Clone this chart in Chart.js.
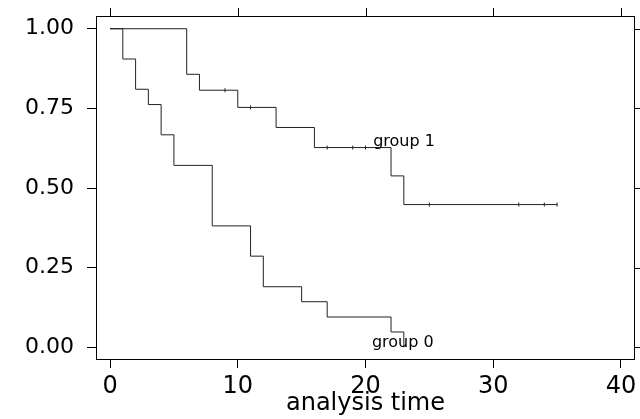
<!DOCTYPE html>
<html>
<head>
<meta charset="utf-8">
<script src="https://cdn.jsdelivr.net/npm/chart.js@4.4.1/dist/chart.umd.min.js"></script>
<style>
html,body{margin:0;padding:0;background:#fff;}
#wrap{width:640px;height:419px;position:relative;}
</style>
</head>
<body>
<div id="wrap"><canvas id="c"></canvas></div>
<script>
// Kaplan-Meier step values
const group1Times = [0, 6, 7, 10, 13, 16, 22, 23, 35];
const group1Surv  = [1.000, 0.857, 0.807, 0.753, 0.690, 0.627, 0.538, 0.448, 0.448];
const group0Times = [0, 1, 2, 3, 4, 5, 8, 11, 12, 15, 17, 22, 23];
const group0Surv  = [1.000, 0.905, 0.810, 0.762, 0.667, 0.571, 0.381, 0.286, 0.190, 0.143, 0.095, 0.048, 0.000];
// censoring marks (group 1)
const censorTimes = [9, 11, 17, 19, 20, 25, 32, 34, 35];
const censorSurv  = [0.807, 0.753, 0.627, 0.627, 0.627, 0.448, 0.448, 0.448, 0.448];
// tick labels
const xTicks = [0, 10, 20, 30, 40];
const xTickLabels = ['0', '10', '20', '30', '40'];
const yTicks = [0, 0.25, 0.5, 0.75, 1];
const yTickLabels = ['0.00', '0.25', '0.50', '0.75', '1.00'];
// curve labels
const curveLabels = ['group 1', 'group 0'];
const curveLabelX = [20.6, 20.5];
const curveLabelY = [0.646, 0.015];
const xTitle = 'analysis time';

const toPts = (xs, ys) => xs.map((v, i) => ({x: v, y: ys[i]}));

const framePlugin = {
  id: 'frame',
  afterDraw(chart) {
    const {ctx, chartArea: a, scales: {x, y}} = chart;
    ctx.save();
    ctx.strokeStyle = '#000';
    ctx.lineWidth = 1;
    ctx.strokeRect(a.left + 0.5, a.top + 0.5, a.right - a.left - 1, a.bottom - a.top - 1);
    ctx.beginPath();
    xTicks.forEach(v => {
      const px = Math.round(x.getPixelForValue(v)) + 0.5;
      ctx.moveTo(px, a.top);
      ctx.lineTo(px, a.top - 8);
    });
    yTicks.forEach(v => {
      const py = Math.round(y.getPixelForValue(v)) + 0.5;
      ctx.moveTo(a.right, py);
      ctx.lineTo(a.right + 9, py);
    });
    ctx.stroke();
    ctx.fillStyle = '#000';
    ctx.font = '16px "DejaVu Sans"';
    ctx.textAlign = 'left';
    ctx.textBaseline = 'middle';
    curveLabels.forEach((t, i) => {
      ctx.fillText(t, x.getPixelForValue(curveLabelX[i]), y.getPixelForValue(curveLabelY[i]));
    });
    ctx.restore();
  }
};

new Chart(document.getElementById('c'), {
  type: 'scatter',
  data: {
    datasets: [
      {
        label: 'group 1',
        data: toPts(group1Times, group1Surv),
        showLine: true, stepped: true,
        borderColor: '#222', borderWidth: 1, pointRadius: 0, fill: false
      },
      {
        label: 'group 0',
        data: toPts(group0Times, group0Surv),
        showLine: true, stepped: true,
        borderColor: '#222', borderWidth: 1, pointRadius: 0, fill: false
      },
      {
        label: 'censored',
        data: toPts(censorTimes, censorSurv),
        showLine: false,
        pointStyle: 'line', rotation: 90, pointRadius: 2,
        borderColor: '#222', borderWidth: 1, backgroundColor: '#222'
      }
    ]
  },
  options: {
    responsive: true,
    maintainAspectRatio: false,
    animation: false,
    devicePixelRatio: 1,
    layout: {padding: {left: 0, top: 16, right: 3, bottom: 0}},
    plugins: {legend: {display: false}, tooltip: {enabled: false}},
    scales: {
      x: {
        type: 'linear', position: 'bottom',
        min: -1.1, max: 41.1,
        afterBuildTicks: s => { s.ticks = xTicks.map(v => ({value: v})); },
        afterFit: s => { s.height = 59; s.paddingLeft = 0; s.paddingRight = 0; s.paddingTop = 0; s.paddingBottom = 0; },
        grid: {drawOnChartArea: false, drawTicks: true, tickLength: 8, color: '#000', lineWidth: 1},
        border: {display: false},
        ticks: {
          color: '#000', padding: 4, maxRotation: 0, autoSkip: false,
          font: {family: 'DejaVu Sans', size: 24},
          callback: (v) => xTickLabels[xTicks.indexOf(v)]
        },
        title: {
          display: true, text: xTitle, color: '#000',
          font: {family: 'DejaVu Sans', size: 24, lineHeight: 1},
          padding: {top: 0, bottom: 3}
        }
      },
      y: {
        type: 'linear', position: 'left',
        min: -0.04, max: 1.04,
        afterBuildTicks: s => { s.ticks = yTicks.map(v => ({value: v})); },
        afterFit: s => { s.width = 96; s.paddingLeft = 0; s.paddingRight = 0; s.paddingTop = 0; s.paddingBottom = 0; },
        grid: {drawOnChartArea: false, drawTicks: true, tickLength: 9, color: '#000', lineWidth: 1},
        border: {display: false},
        ticks: {
          color: '#000', padding: 13, autoSkip: false,
          font: {family: 'DejaVu Sans', size: 22},
          callback: (v) => yTickLabels[yTicks.indexOf(v)]
        }
      }
    }
  },
  plugins: [framePlugin]
});
</script>
</body>
</html>
